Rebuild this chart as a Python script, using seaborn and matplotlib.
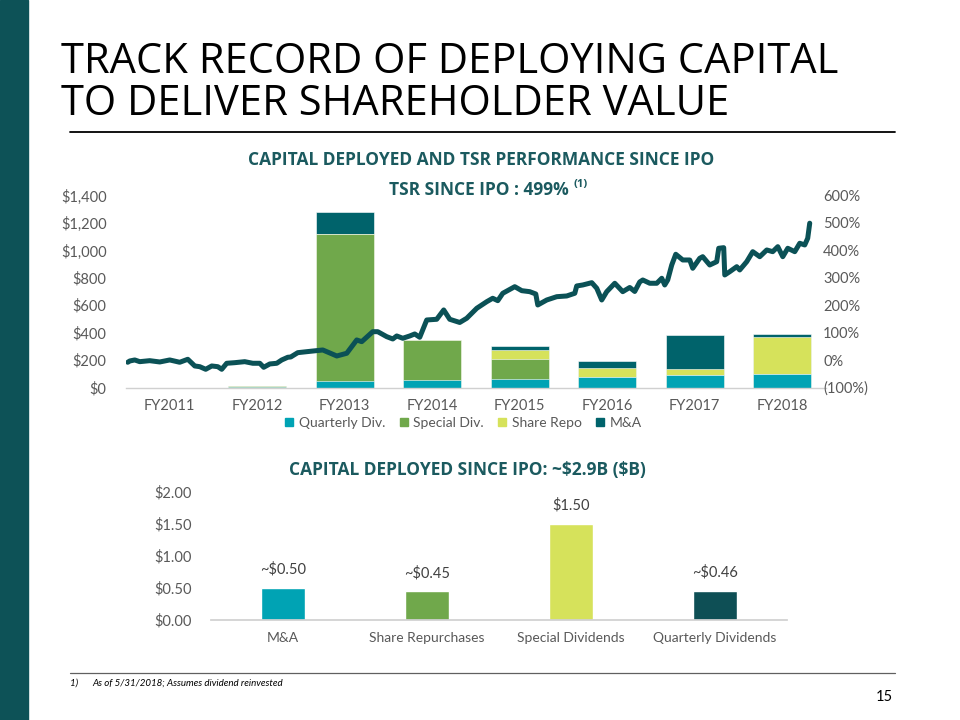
import matplotlib
matplotlib.use("Agg")
import matplotlib.pyplot as plt
from matplotlib.lines import Line2D
import seaborn as sns
import pandas as pd
import numpy as np

sns.set_theme(style="white")
plt.rcParams['font.family'] = ['Lato', 'DejaVu Sans']

# ---------------- data ----------------
fiscal_years = ["FY2011", "FY2012", "FY2013", "FY2014", "FY2015", "FY2016", "FY2017", "FY2018"]
quarterly_div = [0, 4, 49, 54, 63, 78, 90, 100]        # $M
special_div   = [0, 10, 1073, 290, 147, 0, 0, 0]
share_repo    = [0, 0, 0, 0, 61, 63, 47, 268]
mna           = [0, 0, 157, 0, 29, 49, 249, 20]

# TSR since IPO (%), time in fiscal-year position units (FY2011 = 0)
tsr_t = [-0.48, -0.457, -0.40, -0.343, -0.229, -0.114, 0.0, 0.114, 0.206, 0.286, 0.343, 0.411,
         0.48, 0.549, 0.594, 0.651, 0.743, 0.857, 0.949, 1.029, 1.074, 1.143, 1.223, 1.28,
         1.349, 1.383, 1.463, 1.566, 1.749, 1.829, 1.909, 2.023, 2.137, 2.194, 2.32, 2.377,
         2.48, 2.549, 2.594, 2.663, 2.743, 2.8, 2.857, 2.937, 3.051, 3.131, 3.2, 3.314,
         3.394, 3.509, 3.623, 3.691, 3.749, 3.806, 3.943, 4.023, 4.114, 4.183, 4.206, 4.309,
         4.423, 4.537, 4.629, 4.651, 4.72, 4.823, 4.88, 4.937, 4.994, 5.086, 5.177, 5.257,
         5.314, 5.371, 5.406, 5.486, 5.566, 5.623, 5.657, 5.691, 5.737, 5.783, 5.863, 5.943,
         5.977, 6.057, 6.091, 6.171, 6.251, 6.274, 6.331, 6.343, 6.4, 6.48, 6.514, 6.594,
         6.663, 6.743, 6.823, 6.891, 6.949, 7.006, 7.063, 7.143, 7.2, 7.257, 7.291, 7.314]
tsr_pct = [-8, -3.3, 0.4, -5.8, -2.2, -6.9, 0.4, -8.0, 2.9, -21.5, -24.1, -33.6,
           -21.5, -24.1, -33.6, -11.7, -9.5, -5.8, -11.7, -11.7, -26.3, -14.2, -11.7, 0.4,
           10.2, 11.3, 27.0, 30.6, 36.8, 25.9, 14.9, 24.8, 73.3, 67.1, 103.5, 103.5,
           85.3, 76.9, 87.9, 79.5, 87.9, 95.2, 83.1, 146.2, 148.7, 182.7, 148.7, 137.1,
           152.4, 188.9, 212.9, 225.3, 216.6, 243.5, 267.6, 253.0, 249.4, 241.0, 200.9, 219.1,
           231.1, 233.7, 243.5, 270.2, 273.8, 282.2, 261.8, 219.1, 249.4, 280.0, 249.4, 264.7,
           250.1, 284.7, 292.0, 280.0, 280.0, 298.2, 273.8, 292.0, 346.7, 385.7, 364.9, 364.9,
           334.7, 371.1, 376.9, 346.7, 358.7, 407.6, 409.8, 310.3, 322.3, 340.5, 328.5, 358.7,
           395.2, 376.9, 401.4, 395.2, 413.4, 376.9, 407.6, 395.2, 425.8, 419.7, 444.1, 499.0]

left_ticks = [0, 200, 400, 600, 800, 1000, 1200, 1400]
left_tick_labels = ["$0", "$200", "$400", "$600", "$800", "$1,000", "$1,200", "$1,400"]
right_ticks = [-100, 0, 100, 200, 300, 400, 500, 600]
right_tick_labels = ["(100%)", "0%", "100%", "200%", "300%", "400%", "500%", "600%"]

since_ipo_cats = ["M&A", "Share Repurchases", "Special Dividends", "Quarterly Dividends"]
since_ipo_vals = [0.50, 0.45, 1.50, 0.46]
since_ipo_labels = ["~$0.50", "~$0.45", "$1.50", "~$0.46"]
bottom_ticks = [0.0, 0.5, 1.0, 1.5, 2.0]
bottom_tick_labels = ["$0.00", "$0.50", "$1.00", "$1.50", "$2.00"]

# ---------------- colours ----------------
C_Q = "#00A3B4"
C_S = "#70A84B"
C_R = "#D6E25B"
C_M = "#00636B"
C_LINE = "#0B5156"
C_TEAL_TXT = "#1B5A5F"
C_TICK = "#595959"
C_SIDE = "#0D5257"
HEAD_FONT = ["Open Sans", "DejaVu Sans"]

fig = plt.figure(figsize=(9.6, 7.2), dpi=100)
fig.patch.set_facecolor("white")

# side bar
fig.patches.append(matplotlib.patches.Rectangle((0, 0), 28 / 960, 1, transform=fig.transFigure,
                                                color=C_SIDE, zorder=0))

# title
fig.text(61 / 960, 1 - 41 / 720, "TRACK RECORD OF DEPLOYING CAPITAL\nTO DELIVER SHAREHOLDER VALUE",
         family=HEAD_FONT, fontsize=30, color="black", va="top", ha="left",
         linespacing=0.99)
fig.add_artist(Line2D([70 / 960, 895 / 960], [1 - 132 / 720, 1 - 132 / 720],
                      transform=fig.transFigure, color="black", lw=1.3))

fig.text(481 / 960, 1 - 160 / 720, "CAPITAL DEPLOYED AND TSR PERFORMANCE SINCE IPO",
         family=HEAD_FONT, fontsize=12.5, fontweight="bold",
         color=C_TEAL_TXT, ha="center", va="center")
fig.text(569 / 960, 1 - 190 / 720, "TSR SINCE IPO : 499%",
         family=HEAD_FONT, fontsize=12.5, fontweight="bold",
         color=C_TEAL_TXT, ha="right", va="center")
fig.text(573 / 960, 1 - 184 / 720, "(1)",
         family=HEAD_FONT, fontsize=8, fontweight="bold",
         color=C_TEAL_TXT, ha="left", va="center")

# ---------------- top chart ----------------
ax = fig.add_axes([126 / 960, 1 - 387.5 / 720, 700 / 960, 192 / 720])
df = pd.DataFrame({"fy": fiscal_years, "q": quarterly_div, "s": special_div,
                   "r": share_repo, "m": mna})
df["qs"] = df["q"] + df["s"]
df["qsr"] = df["qs"] + df["r"]
df["qsrm"] = df["qsr"] + df["m"]
for col, c in [("qsrm", C_M), ("qsr", C_R), ("qs", C_S), ("q", C_Q)]:
    sns.barplot(data=df, x="fy", y=col, color=c, width=0.66, ax=ax, saturation=1,
                edgecolor="white", linewidth=0.4)
ax.set_xlim(-0.5, 7.5)
ax.set_ylim(0, 1400)
ax.set_yticks(left_ticks)
ax.set_yticklabels(left_tick_labels)
ax.set_xlabel("")
ax.set_ylabel("")
ax.tick_params(axis="both", length=0, labelsize=10.5, labelcolor=C_TICK)
ax.tick_params(axis="y", pad=14)
ax.tick_params(axis="x", pad=8)
for sp in ["top", "right", "left"]:
    ax.spines[sp].set_visible(False)
ax.spines["bottom"].set_color("#D0D0D0")
ax.spines["bottom"].set_linewidth(1)

ax2 = ax.twinx()
ldf = pd.DataFrame({"t": tsr_t, "tsr": tsr_pct})
sns.lineplot(data=ldf, x="t", y="tsr", ax=ax2, color=C_LINE, lw=3.6, sort=False)
ax2.set_ylim(-100, 600)
ax2.set_yticks(right_ticks)
ax2.set_yticklabels(right_tick_labels)
ax2.set_ylabel("")
ax2.tick_params(axis="y", length=0, labelsize=10.5, labelcolor=C_TICK, pad=-2)
for sp in ["top", "right", "left", "bottom"]:
    ax2.spines[sp].set_visible(False)
ax2.set_xlim(-0.5, 7.5)

handles = [Line2D([], [], marker="s", ls="", color=c, markersize=6)
           for c in [C_Q, C_S, C_R, C_M]]
fig.legend(handles, ["Quarterly Div.", "Special Div.", "Share Repo", "M&A"],
           loc="center", bbox_to_anchor=(462 / 960, 1 - 423 / 720), ncol=4, frameon=False,
           fontsize=10, labelcolor=C_TICK, handletextpad=0.2, columnspacing=0.8,
           handlelength=1.0)

# ---------------- bottom chart ----------------
fig.text(467 / 960, 1 - 470 / 720, "CAPITAL DEPLOYED SINCE IPO: ~\\$2.9B (\\$B)",
         family=HEAD_FONT, fontsize=12.5, fontweight="bold",
         color=C_TEAL_TXT, ha="center", va="center")

bx = fig.add_axes([211 / 960, 1 - 620 / 720, 576 / 960, 128 / 720])
bdf = pd.DataFrame({"cat": since_ipo_cats, "val": since_ipo_vals})
sns.barplot(data=bdf, x="cat", y="val", hue="cat", palette=[C_Q, C_S, C_R, "#0E4F55"],
            width=0.31, ax=bx, saturation=1, legend=False)
for i, (v, lab) in enumerate(zip(since_ipo_vals, since_ipo_labels)):
    bx.annotate(lab, (i, v), xytext=(0, 8), textcoords="offset points", ha="center",
                va="bottom", fontsize=10.5, color="#404040")
bx.set_ylim(0, 2.0)
bx.set_xlim(-0.5, 3.5)
bx.set_yticks(bottom_ticks)
bx.set_yticklabels(bottom_tick_labels)
bx.set_xlabel("")
bx.set_ylabel("")
bx.tick_params(axis="both", length=0, labelsize=10.5, labelcolor=C_TICK)
bx.tick_params(axis="x", labelsize=10)
bx.tick_params(axis="y", pad=14)
bx.tick_params(axis="x", pad=9)
for sp in ["top", "right", "left"]:
    bx.spines[sp].set_visible(False)
bx.spines["bottom"].set_color("#D0D0D0")

# footnote
fig.add_artist(Line2D([70 / 960, 895 / 960], [1 - 673 / 720, 1 - 673 / 720],
                      transform=fig.transFigure, color="#606060", lw=0.9))
fig.text(70 / 960, 1 - 683 / 720, "1)", fontsize=7, style="italic", color="black",
         va="center", ha="left")
fig.text(92 / 960, 1 - 683 / 720, "As of 5/31/2018; Assumes dividend reinvested", fontsize=7,
         style="italic", color="black", va="center", ha="left")
fig.text(893 / 960, 1 - 697 / 720, "15", fontsize=10.5, color="black", va="center", ha="right")

fig.savefig("out.png", dpi=100)
